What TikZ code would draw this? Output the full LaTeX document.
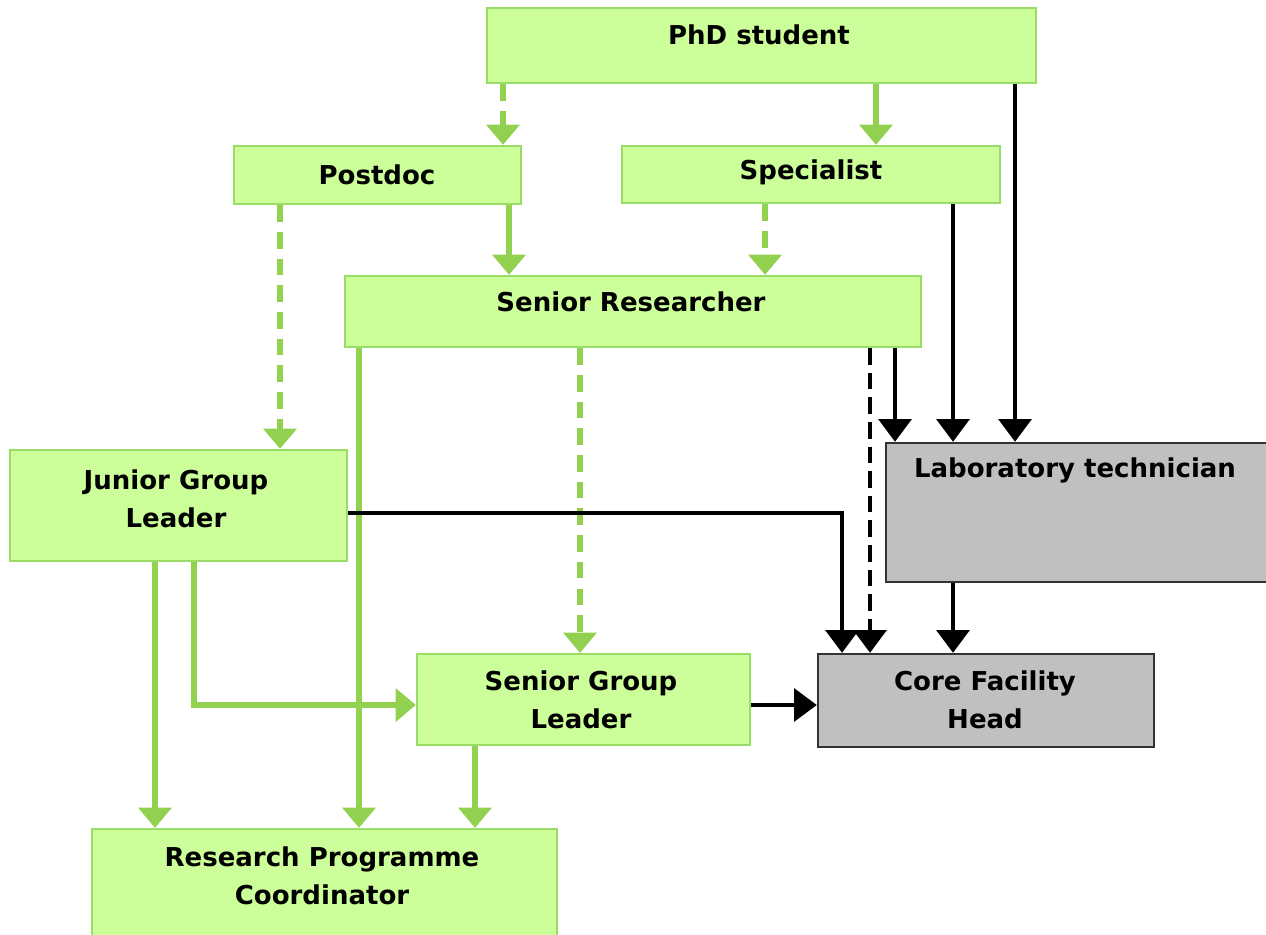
\documentclass[tikz,border=0pt]{standalone}
\usepackage{fontspec}
\setmainfont{DejaVu Sans}
\usetikzlibrary{arrows.meta}
\definecolor{boxfill}{HTML}{CCFF99}
\definecolor{gline}{HTML}{92D050}
\definecolor{gborder}{HTML}{99DD66}
\definecolor{grayfill}{HTML}{C0C0C0}
\definecolor{grayborder}{HTML}{333333}
\tikzset{
  gbox/.style={draw=gborder, line width=1.3pt, fill=boxfill, inner sep=0pt},
  graybox/.style={draw=grayborder, line width=1.3pt, fill=grayfill, inner sep=0pt},
  lbl/.style={font=\fontsize{14.8}{21.5}\selectfont\bfseries, align=center, inner sep=0pt},
  garrow/.style={draw=gline, line width=3.4pt, -{Triangle[width=18.5pt,length=11.5pt]}},
  barrow/.style={draw=black, line width=2.8pt, -{Triangle[width=18.5pt,length=13pt]}},
  gdash/.style={dash pattern=on 9.5pt off 5.7pt},
  bdash/.style={dash pattern=on 9.5pt off 4.5pt},
}
\begin{document}
\begin{tikzpicture}[x=0.02cm,y=-0.02cm]
\useasboundingbox (0,0) rectangle (1266,934);
% boxes
\node[gbox, minimum width=549*0.02cm, minimum height=75*0.02cm] (phd) at (761.5,45.5) {};
\node[gbox, minimum width=287*0.02cm, minimum height=58*0.02cm] (postdoc) at (377.5,175) {};
\node[gbox, minimum width=378*0.02cm, minimum height=57*0.02cm] (spec) at (811,174.5) {};
\node[gbox, minimum width=576*0.02cm, minimum height=71*0.02cm] (senres) at (633,311.5) {};
\node[gbox, minimum width=337*0.02cm, minimum height=111*0.02cm] (jgl) at (178.5,505.5) {};
\node[graybox, minimum width=400*0.02cm, minimum height=139*0.02cm] (lab) at (1086,512.5) {};
\node[gbox, minimum width=333*0.02cm, minimum height=91*0.02cm] (sgl) at (583.5,699.5) {};
\node[graybox, minimum width=336*0.02cm, minimum height=93*0.02cm] (cfh) at (986,700.5) {};
\node[gbox, minimum width=465*0.02cm, minimum height=120*0.02cm] (rpc) at (324.5,889) {};
% labels
\node[lbl] at (759,35) {PhD student};
\node[lbl] at (377,175) {Postdoc};
\node[lbl] at (811,172) {Specialist};
\node[lbl] at (631,302) {Senior Researcher};
\node[lbl] at (176,499) {Junior Group\\Leader};
\node[lbl] at (1075,470) {Laboratory technician};
\node[lbl] at (581,700) {Senior Group\\Leader};
\node[lbl] at (985,700) {Core Facility\\Head};
\node[lbl] at (322,876) {Research Programme\\Coordinator};
% green connectors
\draw[garrow, gdash] (phd.south -| 503,0) -- (postdoc.north -| 503,0);
\draw[garrow] (phd.south -| 876,0) -- (spec.north -| 876,0);
\draw[garrow] (postdoc.south -| 509,0) -- (senres.north -| 509,0);
\draw[garrow, gdash] (postdoc.south -| 280,0) -- (jgl.north -| 280,0);
\draw[garrow, gdash] (spec.south -| 765,0) -- (senres.north -| 765,0);
\draw[garrow, gdash] (senres.south -| 580,0) -- (sgl.north -| 580,0);
\draw[garrow] (senres.south -| 359,0) -- (rpc.north -| 359,0);
\draw[garrow] (jgl.south -| 155,0) -- (rpc.north -| 155,0);
\draw[garrow] (jgl.south -| 194,0) |- (sgl.west |- 0,705);
\draw[garrow] (sgl.south -| 475,0) -- (rpc.north -| 475,0);
% black connectors
\draw[barrow] (phd.south -| 1015,0) -- (lab.north -| 1015,0);
\draw[barrow] (spec.south -| 953,0) -- (lab.north -| 953,0);
\draw[barrow] (senres.south -| 895,0) -- (lab.north -| 895,0);
\draw[barrow, bdash] (senres.south -| 870,0) -- (cfh.north -| 870,0);
\draw[barrow] (jgl.east |- 0,513) -| (cfh.north -| 842,0);
\draw[barrow] (lab.south -| 953,0) -- (cfh.north -| 953,0);
\draw[barrow] (sgl.east |- 0,705) -- (cfh.west |- 0,705);
\end{tikzpicture}
\end{document}
